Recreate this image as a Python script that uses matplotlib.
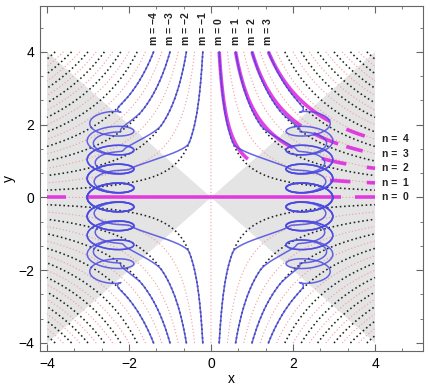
import numpy as np
import matplotlib
matplotlib.use("Agg")
import matplotlib.pyplot as plt
from matplotlib.patches import Polygon

plt.rcParams['font.family'] = ['Liberation Sans', 'DejaVu Sans']

# ---------------- data ----------------
black_levels = [-15.2, -13.6, -12.0, -10.4, -8.8, -7.2, -5.6, -4.0, -2.4, -0.8,
                0.8, 2.4, 4.0, 5.6, 7.2, 8.8, 10.4, 12.0, 13.6, 15.2]
pink_levels = [-14.4, -12.8, -11.2, -9.6, -8.0, -6.4, -4.8, -3.2, -1.6, 0.0,
               1.6, 3.2, 4.8, 6.4, 8.0, 9.6, 11.2, 12.8, 14.4]
m_values = [-4, -3, -2, -1, 0, 1, 2, 3]
m_top_x = [-1.4, -1.0, -0.6, -0.2, 0.2, 0.6, 1.0, 1.4]          # orbit m meets y = 4
m_leave_y = [2.8, 2.4, 2.0, 1.5, 1.5, 2.0, 2.4, 2.8]            # leaves the hyperbola
m_join_y = [2.1, 1.5, 0.95, 0.45, 0.45, 0.95, 1.5, 2.1]         # joins the loop column
column_x = [-2.45, 2.4]                                          # loop column centre (left, right)
loop_a = 0.57                                                    # loop half width
loop_b = 0.25                                                    # loop half height
loop_pitch = 0.52
n_values = [0, 1, 2, 3, 4]
n_top_x = [None, 0.2, 0.6, 1.0, 1.4]
n_end_y = [0.0, 0.4, 0.8, 1.2, 1.6]
n_label_y = [0.0, 0.4, 0.8, 1.2, 1.6]
# solid pieces (x ranges) of the thick magenta n curves
n_segments = [[(-4.0, -3.53), (-3.04, 3.17), (3.5, 4.0)],
              [(0.2, 0.9), (2.9, 3.4), (3.8, 4.0)],
              [(0.6, 2.0), (2.7, 3.3), (3.8, 4.0)],
              [(1.0, 2.2), (2.5, 3.1), (3.3, 3.7)],
              [(1.4, 2.9), (3.3, 3.75)]]

# ---------------- figure ----------------
fig = plt.figure(figsize=(4.30, 3.88), dpi=100)
ax = fig.add_axes([40/430, 37/388, 383/430, 345/388])
ax.set_xlim(-4.17, 5.17)
ax.set_ylim(-4.22, 5.26)

gray = '#e4e4e4'
ax.add_patch(Polygon([(0, 0), (-4, 4), (-4, -4)], closed=True, fc=gray, ec='none', zorder=0))
ax.add_patch(Polygon([(0, 0), (4, 4), (4, -4)], closed=True, fc=gray, ec='none', zorder=0))

g = np.linspace(-4, 4, 800)
GX, GY = np.meshgrid(g, g)
GZ = GX * GY
ax.contour(GX, GY, GZ, levels=pink_levels, colors='#f29a9a', linewidths=0.8,
           linestyles=[(0, (1, 2))], zorder=1)
ax.contour(GX, GY, GZ, levels=black_levels, colors='#222222', linewidths=1.15,
           linestyles=[(0, (1, 1.7))], zorder=2)

# magenta n curves
for n, x0, ye, segs in zip(n_values, n_top_x, n_end_y, n_segments):
    for a, b in segs:
        xs = np.linspace(a, b, 120)
        if n == 0:
            ys = np.zeros_like(xs)
        else:
            c0, c1 = 4.0 * x0, 4.0 * ye
            cx = c0 + (c1 - c0) * (xs - x0) / (4.0 - x0)
            ys = cx / xs
        ax.plot(xs, ys, color='#e020e0', lw=2.6, alpha=0.85, solid_capstyle='butt', zorder=3)


def smooth(t):
    t = np.clip(t, 0, 1)
    return t * t * (3 - 2 * t)


# blue orbits
k = 2 * np.pi / loop_pitch
for x0, yb, yj in zip(m_top_x, m_leave_y, m_join_y):
    sign = np.sign(x0)
    X = column_x[0] if sign < 0 else column_x[1]
    c = 4.0 * x0
    yy = np.linspace(4, -4, 8000)
    ay = np.abs(yy)
    xb = c / yb
    db = -c / yb ** 2 * (yb - yj)          # hyperbola slope, scaled
    t = np.clip((ay - yj) / (yb - yj), 0, 1)
    h00 = 2 * t**3 - 3 * t**2 + 1
    h01 = -2 * t**3 + 3 * t**2
    h11 = t**3 - t**2
    xblend = h00 * X + h01 * xb + h11 * db
    xg = np.where(ay >= yb, c / np.maximum(ay, 1e-6), np.where(ay <= yj, X, xblend))
    w = smooth((yj + 0.45 - ay) / 0.6)
    phi = k * yy
    bx = xg + w * loop_a * np.cos(phi) * sign
    by = yy + w * loop_b * np.sin(phi)
    ax.plot(bx, by, color='#4a4ae2', lw=1.1, alpha=0.85, zorder=4)

for m, x0 in zip(m_values, m_top_x):
    ax.text(x0, 4.2, f"m = {m}".replace('-', '\u2212'), rotation=90, ha='center', va='bottom',
            fontsize=7.5, fontweight='bold', color='#222222')
for n, yl in zip(n_values, n_label_y):
    ax.text(4.18, yl, f"n =  {n}", ha='left', va='center', fontsize=7.5,
            fontweight='bold', color='#222222')

ax.set_xticks([-4, -2, 0, 2, 4])
ax.set_yticks([-4, -2, 0, 2, 4])
ax.set_xticklabels(['\u22124', '\u22122', '0', '2', '4'])
ax.set_yticklabels(['\u22124', '\u22122', '0', '2', '4'])
ax.set_xticks(np.arange(-4, 5.2, 2/3), minor=True)
ax.set_yticks(np.arange(-4, 5.3, 2/3), minor=True)
ax.tick_params(which='both', direction='in', top=True, right=True, color='#666666',
               labelsize=10, pad=4)
ax.tick_params(which='major', length=5)
ax.tick_params(which='minor', length=2.5)
for sp in ax.spines.values():
    sp.set_color('#666666')
ax.set_xlabel('x', fontsize=10, labelpad=1)
ax.set_ylabel('y', fontsize=10, labelpad=2)

fig.savefig('out.png', dpi=100)
